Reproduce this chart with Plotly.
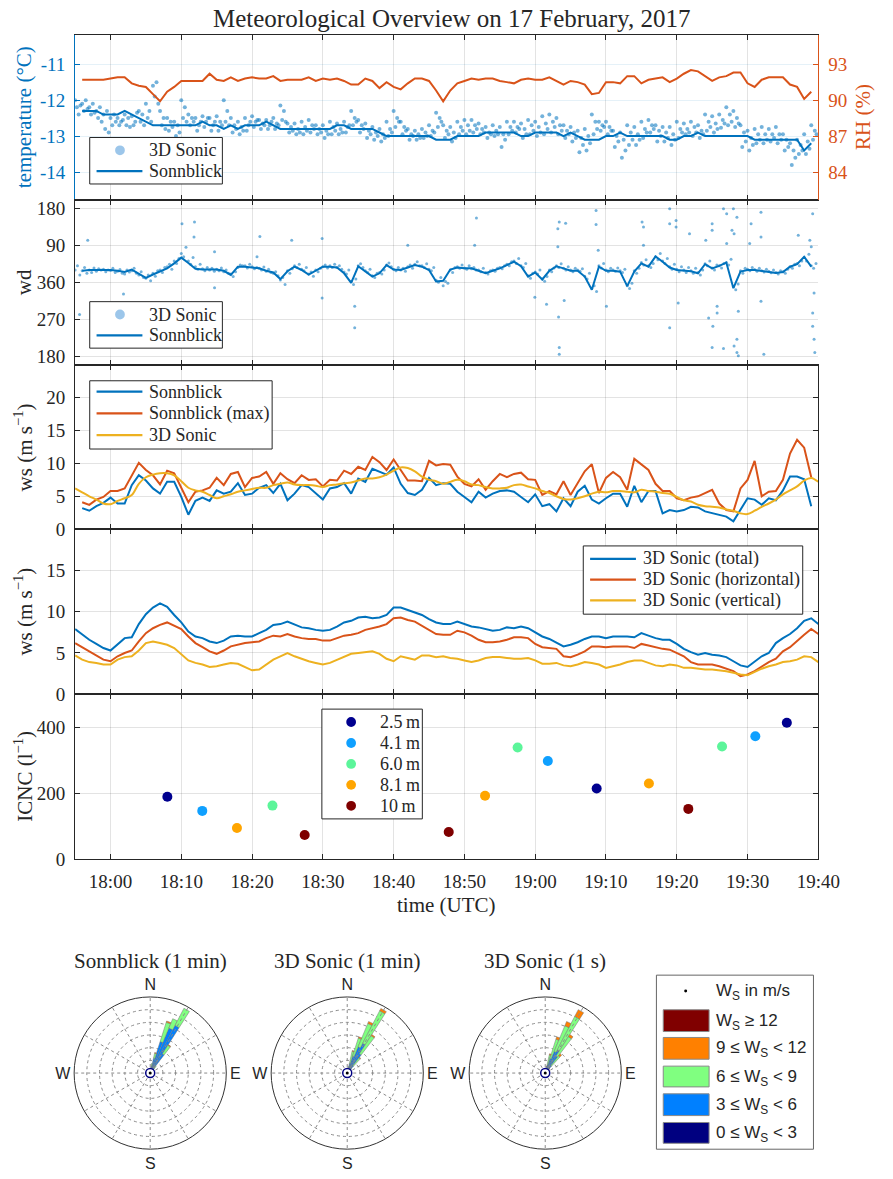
import pandas as pd
import plotly.graph_objects as go

W, H = 893, 1179
SERIF = "Liberation Serif"
SANS = "Liberation Sans"
INK = "#262626"
BLUE = "#0072BD"
ORANGE = "#D95319"
YELLOW = "#EDB120"

def px(x):
    return x / W

def py(y):
    return 1 - y / H

T0 = pd.Timestamp("2017-02-17 17:55:00")

def at(minutes):
    return T0 + pd.Timedelta(minutes=minutes)

def clock(s):
    return pd.Timestamp("2017-02-17 " + s)

# ------------------------------------------------------------------ data
# Sonnblick station, 1-min values 17:56 ... 19:39 UTC
temp_sonnblick = [-12.3,-12.3,-12.3,-12.4,-12.4,-12.4,-12.3,-12.4,-12.5,-12.6,
                  -12.7,-12.7,-12.7,-12.7,-12.7,-12.7,-12.7,-12.6,-12.7,-12.7,
                  -12.8,-12.7,-12.8,-12.7,-12.7,-12.7,-12.6,-12.7,-12.8,-12.8,
                  -12.8,-12.8,-12.8,-12.8,-12.8,-12.8,-12.7,-12.7,-12.8,-12.8,
                  -12.8,-12.8,-12.9,-13.0,-13.0,-13.0,-13.0,-13.0,-13.0,-13.0,
                  -13.1,-13.1,-13.1,-13.0,-13.0,-13.0,-13.0,-12.9,-12.9,-12.9,
                  -12.9,-12.9,-13.0,-13.0,-12.9,-12.9,-12.9,-12.9,-13.0,-12.9,
                  -13.0,-13.1,-13.1,-13.1,-13.0,-13.0,-12.9,-13.0,-13.0,-13.0,
                  -13.0,-13.0,-13.0,-13.1,-13.1,-13.0,-13.0,-12.9,-13.0,-13.0,
                  -13.0,-13.0,-13.0,-13.0,-13.0,-13.1,-13.1,-13.1,-13.1,-13.1,
                  -13.1,-13.1,-13.4,-13.2]
rh_sonnblick = [91.7,91.7,91.7,91.7,91.8,91.9,91.9,91.4,91.2,91.1,
                90.5,89.9,90.7,91.1,91.6,91.6,91.6,91.6,92.2,91.7,
                91.6,91.9,91.6,91.8,91.9,91.8,91.8,92.0,91.6,91.7,
                91.7,91.7,91.9,91.6,91.8,91.7,91.8,91.6,91.3,91.3,
                91.8,91.6,91.0,91.5,91.1,90.9,91.4,91.8,91.8,91.6,
                90.8,89.9,90.8,91.4,91.6,91.8,91.7,91.8,91.8,91.6,
                91.5,91.4,91.7,91.8,91.7,91.7,91.9,91.6,91.3,91.6,
                91.5,91.3,90.5,90.6,91.5,91.5,91.4,92.0,92.0,91.4,
                91.7,91.8,91.9,91.5,91.8,92.2,92.5,92.4,92.0,91.6,
                91.9,92.0,92.3,92.3,91.4,91.1,91.7,91.9,91.9,91.9,
                91.3,91.1,90.1,90.7]
wd_sonnblick = [28,30,30,30,30,28,25,31,22,11,
                19,27,34,46,60,47,33,31,31,31,
                28,18,38,38,36,34,28,24,8,27,
                38,30,19,28,38,38,36,22,359,39,
                26,14,22,42,31,30,36,42,38,30,
                2,4,31,36,34,34,28,22,28,34,
                42,50,39,14,24,7,28,39,34,28,
                28,14,342,38,28,28,26,351,26,46,
                38,63,50,36,30,28,27,22,44,34,
                40,48,346,26,30,30,28,26,23,25,
                38,44,62,38]
ws_sonnblick = [3.2,2.8,3.5,4.0,4.8,3.9,3.9,6.7,8.2,7.4,
                6.2,5.4,7.2,7.2,4.9,2.2,4.3,4.8,4.3,5.9,
                5.4,5.7,7.0,5.2,5.4,6.3,6.7,5.5,6.9,4.4,
                5.4,6.7,6.4,5.4,4.5,6.2,6.4,7.0,5.4,7.7,
                7.2,9.2,8.7,8.3,9.4,6.9,5.5,5.2,6.0,7.8,
                6.7,7.0,6.9,5.7,4.9,4.1,5.7,4.8,5.4,5.8,
                5.9,5.7,4.9,4.1,5.3,3.5,3.8,2.7,4.7,3.5,
                5.7,6.6,4.5,3.9,4.7,5.4,5.4,3.4,6.6,4.1,
                5.8,5.8,2.4,2.9,2.7,2.9,3.4,3.3,2.7,2.4,
                2.2,1.9,1.2,2.9,4.7,4.5,3.7,4.7,4.4,5.9,
                8.0,8.0,7.6,3.5]
ws_sonnblick_max = [4.1,3.7,4.5,4.9,5.8,5.8,6.2,8.2,10.1,9.0,
                    8.2,6.8,8.9,8.5,6.4,4.1,5.7,5.9,6.3,7.8,
                    6.7,8.4,8.7,6.4,7.8,8.0,8.7,6.9,8.5,7.6,
                    7.0,8.2,7.5,7.6,6.5,7.5,7.4,8.9,8.4,9.5,
                    9.0,11.0,10.2,9.0,10.6,8.9,7.4,7.4,7.3,10.4,
                    9.7,9.9,9.8,8.0,6.9,6.5,7.6,6.0,7.3,8.4,
                    7.9,8.4,8.6,7.6,7.5,5.2,5.8,5.3,7.3,5.2,
                    6.9,8.8,9.9,5.5,7.8,8.7,7.9,6.0,10.7,9.8,
                    9.0,6.9,5.8,5.8,4.7,4.4,4.8,5.0,5.5,6.0,
                    3.9,2.9,2.7,6.2,7.5,10.4,5.0,5.7,5.8,7.5,
                    11.5,13.6,12.4,7.9]
time_sonnblick = [at(k) for k in range(1, 1 + len(temp_sonnblick))]

# 3D sonic, 1-min values 17:55 ... 19:40 UTC
ws_sonic = [6.2,5.6,5.0,4.5,3.9,3.8,4.3,4.7,5.2,6.9,
            7.9,8.3,8.5,8.5,8.2,7.3,6.3,5.9,5.7,5.2,
            4.7,5.0,5.3,5.7,5.9,6.1,6.3,6.3,6.7,6.9,
            7.1,6.8,6.7,6.7,6.6,6.4,6.7,6.8,7.0,7.1,
            7.4,7.7,7.7,7.9,8.3,8.9,9.4,9.3,8.8,8.0,
            7.5,7.3,6.9,7.2,7.5,7.3,6.8,6.7,6.4,6.2,
            6.2,6.3,6.7,6.8,6.5,6.2,5.8,5.5,5.0,4.6,
            4.5,4.7,5.0,5.4,5.7,5.6,5.8,5.8,5.7,5.6,
            6.0,5.8,5.7,5.5,5.4,4.9,4.4,4.2,3.7,3.5,
            3.4,3.3,3.0,2.8,2.4,2.3,2.8,3.4,3.9,4.5,
            5.3,5.9,6.5,7.4,7.8,7.2]
ws_sonic_total = [7.9,7.2,6.6,6.1,5.6,5.3,6.1,6.8,6.9,8.5,
                  9.7,10.5,11.0,10.6,9.6,8.7,7.6,7.0,6.8,6.4,
                  6.2,6.5,7.0,7.1,7.0,7.0,7.4,7.8,8.4,8.5,
                  8.8,8.4,8.1,8.0,7.8,7.7,7.8,8.2,8.7,8.9,
                  9.3,9.4,9.2,9.3,9.6,10.5,10.5,10.2,9.9,9.6,
                  9.1,8.7,8.5,8.5,8.8,8.5,8.2,8.1,7.9,7.7,
                  7.8,8.1,8.0,8.2,8.0,7.5,7.0,6.7,6.2,5.8,
                  6.0,6.3,6.7,7.0,7.0,6.8,7.0,7.0,7.0,6.9,
                  7.4,7.1,6.8,6.6,6.6,6.1,5.5,5.1,4.8,5.0,
                  4.8,4.7,4.5,4.0,3.5,3.3,4.0,4.6,5.0,6.2,
                  6.8,7.3,8.0,8.9,9.2,8.5]
ws_sonic_horizontal = [6.2,5.7,5.2,4.8,4.2,4.0,4.6,5.0,5.3,6.4,
                       7.4,8.0,8.4,8.7,8.3,7.9,7.0,6.2,5.7,5.2,
                       4.9,5.3,5.8,6.0,6.2,6.3,6.4,6.8,7.1,7.0,
                       7.3,7.0,6.8,6.7,6.7,6.5,6.5,6.8,7.1,7.2,
                       7.4,7.8,8.0,8.2,8.5,9.2,9.3,9.0,8.8,8.3,
                       7.7,7.3,7.2,7.2,7.7,7.5,7.1,6.6,6.3,6.3,
                       6.4,6.6,6.9,6.9,6.8,6.1,5.7,5.6,5.5,4.6,
                       4.5,4.8,5.2,5.8,5.8,5.7,5.8,5.8,5.8,5.6,
                       6.1,5.9,5.7,5.5,5.4,5.0,4.6,3.9,3.6,3.6,
                       3.6,3.4,3.1,2.8,2.2,2.4,2.8,3.4,3.9,4.3,
                       5.2,5.7,6.5,7.2,7.9,7.3]
ws_sonic_vertical = [4.7,4.2,3.9,3.8,3.6,3.6,4.2,4.5,4.6,5.3,
                     6.2,6.4,6.2,6.0,5.6,4.8,4.1,3.8,3.6,3.3,
                     3.4,3.6,3.8,3.7,3.3,2.9,3.0,3.6,4.2,4.6,
                     5.0,4.6,4.3,4.0,3.8,3.6,3.8,4.2,4.6,4.9,
                     5.0,5.1,5.2,4.9,4.3,4.0,4.6,4.4,4.2,4.7,
                     4.7,4.5,4.6,4.4,4.3,4.1,3.9,4.1,4.4,4.5,
                     4.5,4.4,4.3,4.3,4.4,4.1,3.7,3.7,3.8,3.5,
                     3.4,3.6,3.9,3.8,3.6,3.2,3.4,3.6,3.9,4.1,
                     4.1,3.8,3.5,3.4,3.6,3.5,3.2,3.2,3.1,3.0,
                     3.0,2.9,2.8,2.6,2.4,2.3,2.7,3.1,3.4,3.6,
                     3.9,4.0,4.2,4.6,4.5,3.9]
time_sonic = [at(k) for k in range(len(ws_sonic))]

# 3D sonic temperature samples, 4 per minute (every 15 s) from 17:55
temp_sonic = [
    [-12.0,-12.2,-12.4,-12.15],[-12.1,-12.3,-12.0,-12.25],[-12.2,-12.4,-12.1,-12.35],
    [-12.3,-12.5,-12.2,-12.6],[-12.4,-12.8,-12.3,-12.9],[-12.5,-12.7,-12.4,-12.6],
    [-12.5,-12.7,-12.6,-12.55],[-12.4,-12.7,-12.5,-12.75],[-12.45,-12.7,-12.6,-12.35],
    [-12.3,-12.6,-12.4,-12.7],[-12.1,-12.5,-12.3,-12.6],[-11.6,-11.9,-11.5,-12.1],
    [-12.3,-12.7,-12.5,-12.8],[-12.5,-12.85,-12.6,-12.75],[-12.6,-13.0,-12.7,-12.9],
    [-12.0,-12.5,-12.2,-12.6],[-12.4,-12.7,-12.5,-12.6],[-12.5,-12.85,-12.7,-12.6],
    [-12.45,-12.75,-12.6,-12.5],[-12.5,-12.85,-12.7,-12.6],[-12.45,-12.85,-12.6,-12.7],
    [-12.0,-12.6,-12.3,-12.7],[-12.5,-12.9,-12.7,-12.8],[-12.6,-12.95,-12.75,-12.85],
    [-12.5,-12.85,-12.7,-12.6],[-12.45,-12.75,-12.6,-12.55],[-12.55,-12.8,-12.65,-12.7],
    [-12.55,-12.8,-12.7,-12.6],[-12.5,-12.8,-12.65,-12.7],[-12.15,-12.55,-12.3,-12.6],
    [-12.65,-12.9,-12.75,-12.85],[-12.65,-12.95,-12.8,-12.9],[-12.6,-12.95,-12.75,-12.85],
    [-12.55,-12.9,-12.7,-12.8],[-12.7,-12.95,-12.8,-12.9],[-12.7,-13.05,-12.85,-12.95],
    [-12.6,-12.95,-12.75,-12.85],[-12.65,-12.95,-12.8,-12.9],[-12.6,-12.9,-12.75,-12.7],
    [-12.3,-12.7,-12.5,-12.6],[-12.55,-12.9,-12.7,-12.8],[-12.65,-13.05,-12.85,-12.95],
    [-12.75,-13.1,-12.9,-13.0],[-12.8,-13.15,-12.95,-13.05],[-12.6,-13.0,-12.8,-12.9],
    [-12.3,-12.75,-12.5,-12.6],[-12.6,-12.95,-12.75,-12.85],[-12.8,-13.1,-12.95,-13.0],
    [-12.85,-13.1,-12.95,-13.05],[-12.8,-13.05,-12.9,-13.0],[-12.7,-13.0,-12.85,-12.9],
    [-12.35,-12.75,-12.5,-12.6],[-12.7,-13.05,-12.85,-12.95],[-12.75,-13.15,-12.9,-13.05],
    [-12.6,-12.95,-12.75,-12.85],[-12.55,-12.95,-12.7,-12.85],[-12.55,-12.9,-12.7,-12.8],
    [-12.65,-12.95,-12.8,-12.9],[-12.75,-13.05,-12.9,-12.95],[-12.7,-13.0,-12.85,-12.95],
    [-12.75,-13.3,-12.95,-13.1],[-12.6,-12.95,-12.75,-12.85],[-12.6,-12.9,-12.75,-12.8],
    [-12.65,-13.05,-12.8,-12.95],[-12.55,-12.95,-12.7,-12.85],[-12.6,-13.0,-12.75,-12.9],
    [-12.45,-12.95,-12.65,-12.8],[-12.4,-12.9,-12.6,-12.75],[-12.5,-12.95,-12.7,-12.85],
    [-12.7,-13.05,-12.85,-12.95],[-12.75,-13.15,-12.9,-13.05],[-12.85,-13.45,-13.05,-13.25],
    [-12.8,-13.4,-13.0,-13.2],[-12.4,-12.95,-12.6,-12.8],[-12.6,-12.85,-12.7,-12.75],
    [-12.6,-12.95,-12.75,-12.85],[-12.85,-13.3,-13.0,-13.15],[-12.9,-13.6,-13.1,-13.4],
    [-12.7,-13.25,-12.9,-13.1],[-12.75,-13.25,-12.95,-13.1],[-12.6,-13.05,-12.8,-12.9],
    [-12.55,-12.9,-12.7,-12.8],[-12.7,-13.15,-12.85,-13.0],[-12.75,-13.15,-12.9,-13.05],
    [-12.75,-13.25,-12.95,-13.1],[-12.6,-13.05,-12.8,-12.9],[-12.65,-12.95,-12.8,-12.9],
    [-12.6,-13.0,-12.75,-12.9],[-12.7,-13.05,-12.85,-12.95],[-12.4,-12.85,-12.6,-12.75],
    [-12.45,-12.9,-12.65,-12.8],[-12.4,-12.77,-12.55,-12.65],[-12.2,-12.7,-12.4,-12.6],
    [-12.3,-12.75,-12.5,-12.65],[-12.7,-13.3,-12.9,-13.15],[-12.85,-13.4,-13.05,-13.25],
    [-12.8,-13.2,-12.95,-13.1],[-12.75,-13.2,-12.95,-13.1],[-12.8,-13.15,-12.95,-13.05],
    [-12.75,-13.2,-12.95,-13.1],[-12.95,-13.4,-13.1,-13.3],[-13.2,-13.8,-13.4,-13.6],
    [-13.1,-13.5,-13.25,-13.4],[-12.95,-13.5,-13.15,-13.35],[-12.7,-13.1,-12.85,-12.95],
]

# 3D sonic wind direction samples (deg), 3 per minute (every 20 s) from 17:55
wd_sonic = [
    [30,40,18],[28,36,22],[30,24,35],[27,33,30],[32,26,30],[29,34,24],[27,31,22],
    [20,30,25],[28,34,22],[18,26,12],[10,18,4],[22,15,28],[30,24,36],[38,44,32],
    [52,46,58],[70,62,85],[52,44,60],[38,32,44],[33,28,36],[30,34,27],[32,28,35],
    [26,30,22],[20,14,26],[36,42,40],[40,35,44],[38,33,36],[34,30,37],[27,32,24],
    [22,26,16],[6,12,355],[28,22,33],[40,36,44],[32,28,36],[20,25,15],[30,26,34],
    [38,42,35],[40,36,44],[36,40,32],[25,20,30],[3,355,8],[40,45,36],[28,24,32],
    [16,12,22],[24,20,30],[42,47,38],[32,28,36],[30,34,27],[38,42,34],[44,50,40],
    [40,36,45],[32,28,36],[5,0,12],[352,2,358],[30,24,36],[38,34,42],[35,32,40],
    [33,36,30],[30,26,34],[24,20,28],[30,27,34],[36,33,40],[44,40,50],[52,46,58],
    [40,36,46],[16,10,22],[25,20,30],[8,3,14],[30,26,35],[40,36,45],[34,30,38],
    [30,26,34],[30,27,33],[15,8,22],[345,352,338],[40,35,46],[30,26,34],[30,27,35],
    [28,24,32],[352,345,358],[28,22,34],[48,42,55],[40,36,46],[62,55,70],[52,46,58],
    [38,32,44],[32,26,38],[30,24,36],[28,22,34],[24,18,30],[45,40,52],[35,30,42],
    [40,35,46],[48,42,56],[350,342,356],[28,22,34],[32,28,36],[31,27,34],[28,25,32],
    [27,23,30],[24,20,28],[26,22,32],[38,34,44],[46,40,52],[60,52,68],[40,34,46],
]
# isolated 3D sonic direction samples away from the main band (time, deg)
wd_sonic_outliers = [
    ("17:55:38",282),("17:56:47",102),("18:01:50",332),("18:10:06",142),("18:11:48",110),
    ("18:11:52",146),("18:14:42",74),("18:14:42",347),("18:20:42",62),("18:21:06",111),
    ("18:25:36",102),("18:29:54",106),("18:29:54",322),("18:34:30",250),("18:34:30",302),
    ("18:42:00",90),("18:51:27",90),("18:51:42",156),("18:59:57",324),("19:01:36",307),
    ("19:03:12",130),("19:03:12",86),("19:03:18",276),("19:03:24",146),("19:03:24",202),
    ("19:03:24",186),("19:04:06",316),("19:04:18",143),("19:08:36",174),("19:08:36",140),
    ("19:08:54",78),("19:10:04",302),("19:15:06",146),("19:15:18",134),("19:15:18",90),
    ("19:19:00",178),("19:19:00",142),("19:19:00",250),("19:19:54",150),("19:19:54",134),
    ("19:20:12",310),("19:21:48",118),("19:24:06",102),("19:24:30",274),("19:25:00",142),
    ("19:25:00",126),("19:25:00",202),("19:25:06",254),("19:25:42",302),("19:25:42",286),
    ("19:26:36",178),("19:26:36",200),("19:27:03",166),("19:27:03",94),("19:27:48",126),
    ("19:28:00",178),("19:28:06",118),("19:28:06",206),("19:28:30",158),("19:28:30",222),
    ("19:28:30",190),("19:28:42",290),("19:28:42",182),("19:30:18",94),("19:30:30",142),
    ("19:31:54",170),("19:31:54",110),("19:31:54",314),("19:32:18",186),("19:37:10",114),
    ("19:38:48",102),("19:39:00",86),("19:39:12",166),("19:39:12",286),("19:39:12",254),
    ("19:39:24",334),("19:39:24",222),("19:39:30",190),
]

# Ice crystal number concentration at the five mast heights
icnc_time = ["18:08:02","18:12:58","18:17:52","18:22:53","18:27:26",
             "18:47:47","18:52:55","18:57:31","19:01:47","19:08:41",
             "19:16:04","19:21:38","19:26:24","19:31:06","19:35:33"]
icnc_value = [190,147,95,163,74, 83,193,339,298,215, 230,153,342,373,414]
icnc_height = ["2.5 m","4.1 m","8.1 m","6.0 m","10 m",
               "10 m","8.1 m","6.0 m","4.1 m","2.5 m",
               "8.1 m","10 m","6.0 m","4.1 m","2.5 m"]
height_levels = ["2.5 m","4.1 m","6.0 m","8.1 m","10 m"]
height_colors = ["#00008F","#0FA0FF","#5CF59A","#FFA500","#7F0000"]

# Wind roses: frequency (%) per 5-degree sector, stacked by speed class
speed_labels = ["0 ≤ W<sub>S</sub> < 3","3 ≤ W<sub>S</sub> < 6","6 ≤ W<sub>S</sub> < 9",
                "9 ≤ W<sub>S</sub> < 12","W<sub>S</sub> ≥ 12"]
speed_colors = ["#000080","#0080FF","#80FF80","#FF8000","#800000"]
rose_titles = ["Sonnblick (1 min)","3D Sonic (1 min)","3D Sonic (1 s)"]
rose_dirs = [355,0,5,10,15,20,25,30,35,40,45]
rose_sonnblick = [[0.5,0.5,0.5,0.8,1.0,1.0,1.2,1.2,1.0,0.5,0.2],
                  [0.5,0.5,1.0,2.0,5.0,12.0,18.0,20.0,8.0,2.0,0.5],
                  [0.5,0.0,0.5,1.0,2.0,8.0,4.0,7.6,4.0,1.0,0.3],
                  [0.3,0.0,0.0,0.0,0.3,0.5,0.0,0.0,0.3,0.0,0.0],
                  [0,0,0,0,0,0,0,0,0,0,0]]
rose_sonic_1min = [[0.2,0.3,0.4,0.5,0.8,1.0,1.2,1.2,1.0,0.6,0.3],
                   [0.2,0.3,0.5,1.0,3.0,6.0,10.0,12.0,8.0,3.0,1.0],
                   [0.0,0.0,0.3,1.0,5.0,7.5,10.0,14.5,8.5,4.0,1.0],
                   [0.0,0.0,0.0,0.0,0.3,0.5,0.8,1.0,0.5,0.3,0.0],
                   [0,0,0,0,0,0,0,0,0,0,0]]
rose_sonic_1s = [[0.2,0.3,0.4,0.5,0.8,1.0,1.2,1.2,1.0,0.6,0.3],
                 [0.2,0.3,0.5,1.0,2.5,5.0,8.0,9.0,7.0,3.0,1.0],
                 [0.0,0.0,0.3,1.0,4.0,8.0,11.0,15.0,9.0,5.0,1.0],
                 [0.0,0.0,0.0,0.2,0.5,1.0,1.8,3.0,1.0,1.0,0.2],
                 [0,0,0,0,0,0,0,0,0,0,0]]
rose_rmax = 30
rose_rings = [5,10,15,20,25]
rose_spokes = list(range(0, 360, 30))

# ------------------------------------------------------------------ figure
def wrap(d):
    return d + 360 if d < 180 else d

fig = go.Figure()
SONIC_DOT = "rgba(0,114,189,0.55)"

# panel 1: temperature / RH
t_sonic_time = [at(k + j / len(g)) for k, g in enumerate(temp_sonic) for j in range(len(g))]
t_sonic_val = [v for g in temp_sonic for v in g]
fig.add_trace(go.Scatter(x=t_sonic_time, y=t_sonic_val, mode="markers", xaxis="x", yaxis="y",
                         marker=dict(size=4, color=SONIC_DOT), hoverinfo="skip"))
fig.add_trace(go.Scatter(x=time_sonnblick, y=temp_sonnblick, mode="lines", xaxis="x", yaxis="y",
                         line=dict(color=BLUE, width=2)))
fig.add_trace(go.Scatter(x=time_sonnblick, y=rh_sonnblick, mode="lines", xaxis="x", yaxis="y6",
                         line=dict(color=ORANGE, width=2)))

# panel 2: wind direction
wd_time = [at(k + j / len(g)) for k, g in enumerate(wd_sonic) for j in range(len(g))]
wd_val = [wrap(v) for g in wd_sonic for v in g]
wd_time += [clock(t) for t, _ in wd_sonic_outliers]
wd_val += [wrap(v) for _, v in wd_sonic_outliers]
fig.add_trace(go.Scatter(x=wd_time, y=wd_val, mode="markers", xaxis="x2", yaxis="y2",
                         marker=dict(size=3, color=SONIC_DOT), hoverinfo="skip"))
fig.add_trace(go.Scatter(x=time_sonnblick, y=[wrap(v) for v in wd_sonnblick], mode="lines",
                         xaxis="x2", yaxis="y2", line=dict(color=BLUE, width=2)))

# panel 3: wind speed Sonnblick vs sonic
fig.add_trace(go.Scatter(x=time_sonnblick, y=ws_sonnblick, mode="lines", xaxis="x3", yaxis="y3",
                         line=dict(color=BLUE, width=2)))
fig.add_trace(go.Scatter(x=time_sonnblick, y=ws_sonnblick_max, mode="lines", xaxis="x3", yaxis="y3",
                         line=dict(color=ORANGE, width=2)))
fig.add_trace(go.Scatter(x=time_sonic, y=ws_sonic, mode="lines", xaxis="x3", yaxis="y3",
                         line=dict(color=YELLOW, width=2, shape="spline")))

# panel 4: sonic components
for vals, col in [(ws_sonic_total, BLUE), (ws_sonic_horizontal, ORANGE),
                  (ws_sonic_vertical, YELLOW)]:
    fig.add_trace(go.Scatter(x=time_sonic, y=vals, mode="lines", xaxis="x4", yaxis="y4",
                             line=dict(color=col, width=2)))

# panel 5: ICNC
for lev, col in zip(height_levels, height_colors):
    xs = [clock(t) for t, h in zip(icnc_time, icnc_height) if h == lev]
    ys = [v for v, h in zip(icnc_value, icnc_height) if h == lev]
    fig.add_trace(go.Scatter(x=xs, y=ys, mode="markers", xaxis="x5", yaxis="y5",
                             marker=dict(size=10, color=col)))

# wind roses
for i, data in enumerate([rose_sonnblick, rose_sonic_1min, rose_sonic_1s]):
    sp = "polar" if i == 0 else f"polar{i+1}"
    # dotted direction spokes every 30 degrees
    for ang in rose_spokes:
        fig.add_trace(go.Scatterpolar(r=[0, rose_rmax], theta=[ang, ang], mode="lines",
                                      subplot=sp, hoverinfo="skip",
                                      line=dict(color="#8a8a8a", width=1, dash="dot")))
    for vals, col in zip(data, speed_colors):
        fig.add_trace(go.Barpolar(r=vals, theta=rose_dirs, width=[5] * len(rose_dirs),
                                  subplot=sp,
                                  marker=dict(color=col, line=dict(color="#777", width=0.5))))
    fig.add_trace(go.Scatterpolar(r=[0], theta=[0], mode="markers", subplot=sp,
                                  marker=dict(size=9, color="white",
                                              line=dict(color="#000080", width=1.5))))
    fig.add_trace(go.Scatterpolar(r=[0], theta=[0], mode="markers", subplot=sp,
                                  marker=dict(size=3, color="black")))

# ------------------------------------------------------------------ layout
panels = [(33, 200), (200, 367), (367, 533), (533, 700), (700, 867)]
XD = [px(77), px(839)]
tickfont = dict(family=SERIF, size=19, color=INK)
grid = "rgba(38,38,38,0.13)"

def xax(i, labels):
    d = dict(domain=XD, anchor="y" if i == 1 else f"y{i}", type="date",
             range=[at(0), at(105)], tick0="2017-02-17 18:00:00", dtick=600000,
             tickformat="%H:%M", showgrid=True, gridcolor=grid, ticks="inside", ticklen=5,
             tickcolor=INK, showline=True, linecolor=INK, linewidth=1, mirror="ticks",
             showticklabels=labels, tickfont=tickfont, zeroline=False, ticklabelstandoff=5)
    if i > 1:
        d["matches"] = "x"
    return d

def yax(i, **kw):
    a, b = panels[i - 1]
    d = dict(domain=[py(b), py(a)], anchor="x" if i == 1 else f"x{i}", showgrid=True,
             gridcolor=grid, ticks="inside", ticklen=5, tickcolor=INK, showline=True,
             linecolor=INK, linewidth=1, mirror="ticks", tickfont=tickfont, zeroline=False,
             ticklabelstandoff=5)
    d.update(kw)
    return d

lay = dict(width=W, height=H, margin=dict(l=0, r=0, t=0, b=0), paper_bgcolor="white",
           plot_bgcolor="white", showlegend=False,
           font=dict(family=SERIF, size=18, color=INK))
for i in range(1, 6):
    lay["xaxis" if i == 1 else f"xaxis{i}"] = xax(i, i == 5)

lay["yaxis"] = yax(1, range=[-14.77, -10.18], tickvals=[-14, -13, -12, -11],
                   ticktext=["-14", "-13", "-12", "-11"], mirror=False, linecolor=BLUE,
                   tickcolor=BLUE, tickfont=dict(family=SERIF, size=19, color=BLUE),
                   gridcolor="rgba(0,114,189,0.10)")
lay["yaxis6"] = dict(overlaying="y", side="right", anchor="x", range=[81.69, 95.46],
                     tickvals=[84, 87, 90, 93], showgrid=False, ticks="inside", ticklen=5,
                     tickcolor=ORANGE, showline=True, linecolor=ORANGE, linewidth=1,
                     tickfont=dict(family=SERIF, size=19, color=ORANGE), zeroline=False,
                     ticklabelstandoff=5)
lay["yaxis2"] = yax(2, range=[160, 560], tickvals=[180, 270, 360, 450, 540],
                    ticktext=["180", "270", "360", "90", "180"], mirror=False)
lay["yaxis7"] = dict(overlaying="y2", side="right", anchor="x2", range=[160, 560],
                     tickvals=[180, 270, 360, 450, 540], ticktext=["S", "W", "N", "E", "S"],
                     showgrid=False, ticks="inside", ticklen=5, tickcolor=INK, showline=True,
                     linecolor=INK, linewidth=1, tickfont=tickfont, zeroline=False,
                     ticklabelstandoff=5)
lay["yaxis3"] = yax(3, range=[0, 25], tickvals=[0, 5, 10, 15, 20])
lay["yaxis4"] = yax(4, range=[0, 20], tickvals=[0, 5, 10, 15])
lay["yaxis5"] = yax(5, range=[0, 500], tickvals=[0, 200, 400])

# polar subplots
rose_centers = [154, 356, 559]
HALF = 78
for i, cx in enumerate(rose_centers):
    key = "polar" if i == 0 else f"polar{i+1}"
    lay[key] = dict(
        domain=dict(x=[px(cx - HALF), px(cx + HALF)], y=[py(1083 + HALF), py(1083 - HALF)]),
        bgcolor="white", barmode="stack", bargap=0,
        angularaxis=dict(rotation=90, direction="clockwise", tickmode="array",
                         tickvals=[0, 90, 180, 270], ticktext=["N", "E", "S", "W"],
                         showline=True, linecolor="#333", linewidth=1, showgrid=False,
                         ticks="", tickfont=dict(family=SANS, size=16, color=INK)),
        radialaxis=dict(range=[0, rose_rmax], tickvals=rose_rings, showticklabels=False,
                        ticks="", showline=False, gridcolor="#8a8a8a", griddash="dot",
                        gridwidth=1, angle=90))
fig.update_layout(**lay)

# annotations, legends drawn as shapes + text
ann = []
shapes = []

def text(x, y, s, size=21, color=INK, angle=0, family=SERIF, xanchor="center"):
    ann.append(dict(x=px(x), y=py(y), xref="paper", yref="paper", text=s, showarrow=False,
                    font=dict(family=family, size=size, color=color), textangle=angle,
                    xanchor=xanchor, yanchor="middle"))

def box(x0, y0, x1, y1, edge=INK, fill="white"):
    shapes.append(dict(type="rect", xref="paper", yref="paper", x0=px(x0), x1=px(x1),
                       y0=py(y1), y1=py(y0), line=dict(color=edge, width=1), fillcolor=fill))

def hline(x0, x1, y, col):
    shapes.append(dict(type="line", xref="paper", yref="paper", x0=px(x0), x1=px(x1),
                       y0=py(y), y1=py(y), line=dict(color=col, width=2.2)))

def dot(x, y, r, col):
    shapes.append(dict(type="circle", xref="paper", yref="paper", x0=px(x - r), x1=px(x + r),
                       y0=py(y + r), y1=py(y - r), fillcolor=col, line=dict(width=0)))

text(463, 17, "Meteorological Overview on 17 February, 2017", size=25)
text(24, 116, "temperature (°C)", color=BLUE, angle=-90)
text(884, 116, "RH (%)", color=ORANGE, angle=-90)
text(24, 283, "wd", angle=-90)
text(24, 450, "ws (m s<sup>−1</sup>)", angle=-90)
text(24, 616, "ws (m s<sup>−1</sup>)", angle=-90)
text(24, 783, "ICNC (l<sup>−1</sup>)", angle=-90)
text(458, 913, "time (UTC)")
for cx, t in zip(rose_centers, rose_titles):
    text(cx, 970, t, size=21)

LEG = 18
# panel 1 and 2 legends
for top in (137, 303):
    box(92, top, 228, top + 47)
    dot(123, top + 13, 5, "#9CC6EA")
    text(151, top + 13, "3D Sonic", size=LEG, xanchor="left")
    hline(99, 146, top + 34, BLUE)
    text(151, top + 34, "Sonnblick", size=LEG, xanchor="left")
# panel 3 legend
box(92, 383, 279, 452)
for y, s, c in [(394, "Sonnblick", BLUE), (416, "Sonnblick (max)", ORANGE), (438, "3D Sonic", YELLOW)]:
    hline(99, 146, y, c)
    text(151, y, s, size=LEG, xanchor="left")
# panel 4 legend
box(598, 550, 823, 619)
for y, s, c in [(563, "3D Sonic (total)", BLUE), (584, "3D Sonic (horizontal)", ORANGE),
                (605, "3D Sonic (vertical)", YELLOW)]:
    hline(605, 652, y, c)
    text(657, y, s, size=LEG, xanchor="left")
# panel 5 legend
box(330, 715, 433, 826)
for j, (lev, col) in enumerate(zip(height_levels, height_colors)):
    y = 728 + j * 21.2
    dot(360, y, 5, col)
    text(388, y, lev.replace(" ", "\u2009"), size=LEG, xanchor="left")

# wind-rose legend box
box(673, 984, 834, 1160, edge="#666")
dot(703, 1000, 1.5, "black")
text(732, 1001, "W<sub>S</sub> in m/s", size=17, family=SANS, xanchor="left")
rows = [(1019, 1041), (1047, 1069), (1076, 1097), (1104, 1126), (1133, 1154)]
for (a, b), lab, col in zip(rows, speed_labels[::-1], speed_colors[::-1]):
    box(680, a, 727, b, edge="#888", fill=col)
    text(732, (a + b) / 2 + 1, lab, size=17, family=SANS, xanchor="left")

fig.update_layout(annotations=ann, shapes=shapes)
fig.write_html("out.html")
